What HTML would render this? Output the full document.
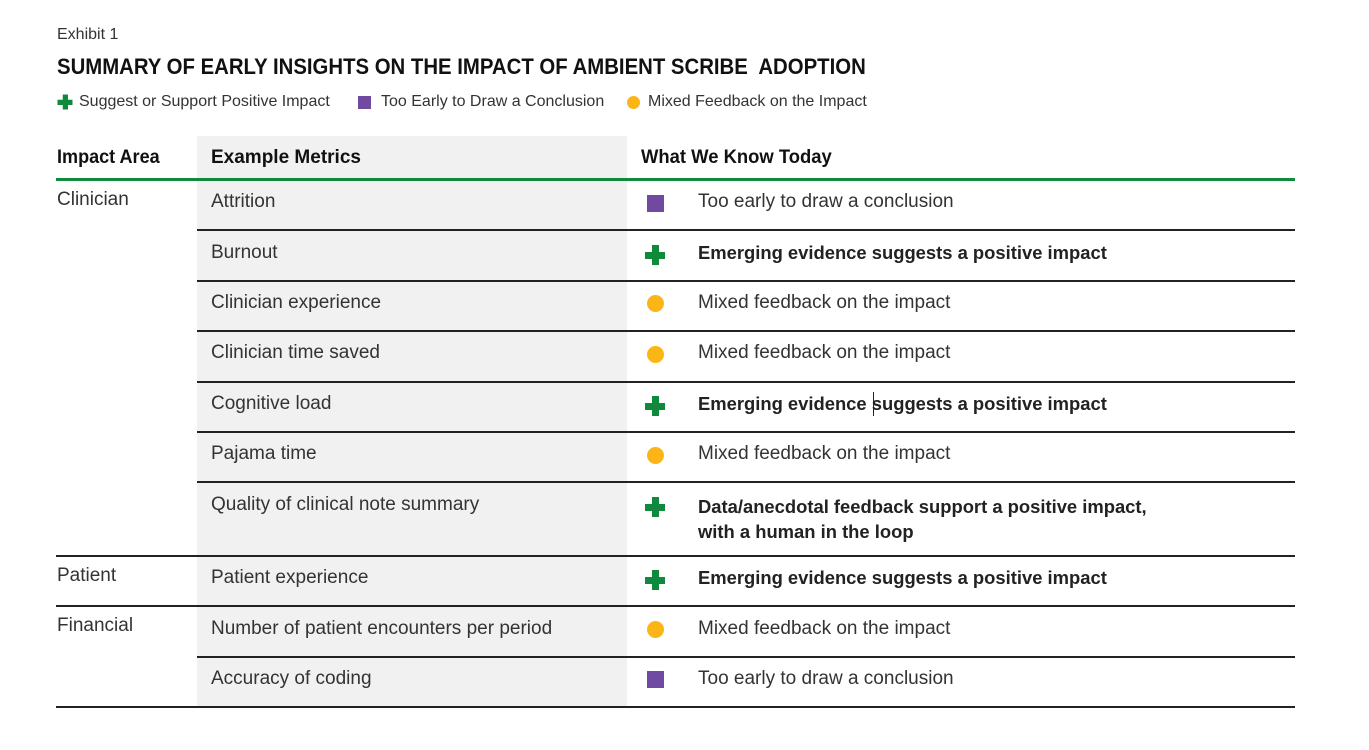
<!DOCTYPE html>
<html><head><meta charset="utf-8"><style>
body{margin:0;width:1369px;height:750px;background:#fff;position:relative;overflow:hidden;font-family:"Liberation Sans",sans-serif;color:#222}
.a{position:absolute;white-space:nowrap}
.n{font-family:"Liberation Sans",sans-serif}
.t{font-size:19px;color:#333;line-height:22px}
.b{font-weight:bold;color:#222;font-size:18.4px}
.hl{position:absolute;height:1.5px;background:#222}
.sq{position:absolute;width:17px;height:17px;background:#6f4aa0}
.ci{position:absolute;width:17px;height:17px;border-radius:50%;background:#fbb517}
.pl{position:absolute;width:20px;height:20px}
.pl:before{content:"";position:absolute;left:6.5px;top:0;width:7px;height:20px;background:#0f8a3c}
.pl:after{content:"";position:absolute;top:6.5px;left:0;height:7px;width:20px;background:#0f8a3c}
</style></head><body>
<div class="a n" style="left:57px;top:26px;font-size:16px;color:#333">Exhibit 1</div>
<div class="a n" style="left:57px;top:54px;font-size:22px;font-weight:bold;color:#111;transform:scaleX(.925);transform-origin:0 0">SUMMARY OF EARLY INSIGHTS ON THE IMPACT OF AMBIENT SCRIBE&nbsp; ADOPTION</div>
<div class="pl" style="left:55px;top:92px;transform:scale(.75)"></div>
<div class="a n" style="left:79px;top:93px;font-size:16px;color:#333">Suggest or Support Positive Impact</div>
<div class="sq" style="left:358px;top:96px;width:13px;height:13px"></div>
<div class="a n" style="left:381px;top:93px;font-size:16px;color:#333">Too Early to Draw a Conclusion</div>
<div class="ci" style="left:627px;top:96px;width:13px;height:13px"></div>
<div class="a n" style="left:648px;top:93px;font-size:16px;color:#333">Mixed Feedback on the Impact</div>

<div style="position:absolute;left:197px;top:136px;width:430px;height:570px;background:#f1f1f1"></div>
<div class="a n" style="left:57px;top:147px;font-size:19px;font-weight:bold;color:#111;transform:scaleX(.95);transform-origin:0 0">Impact Area</div>
<div class="a n" style="left:211px;top:147px;font-size:19px;font-weight:bold;color:#111">Example Metrics</div>
<div class="a n" style="left:641px;top:147px;font-size:19px;font-weight:bold;color:#111;transform:scaleX(.97);transform-origin:0 0">What We Know Today</div>
<div style="position:absolute;left:56px;top:178px;width:1239px;height:3px;background:#0f8a3c"></div>

<div class="hl" style="left:197px;top:229px;width:1098px"></div>
<div class="hl" style="left:197px;top:280px;width:1098px"></div>
<div class="hl" style="left:197px;top:330px;width:1098px"></div>
<div class="hl" style="left:197px;top:381px;width:1098px"></div>
<div class="hl" style="left:197px;top:431px;width:1098px"></div>
<div class="hl" style="left:197px;top:481px;width:1098px"></div>
<div class="hl" style="left:56px;top:555px;width:1239px"></div>
<div class="hl" style="left:56px;top:605px;width:1239px"></div>
<div class="hl" style="left:197px;top:656px;width:1098px"></div>
<div class="hl" style="left:56px;top:706px;width:1239px"></div>

<div class="a t" style="left:57px;top:189px">Clinician</div>
<div class="a t" style="left:57px;top:565px">Patient</div>
<div class="a t" style="left:57px;top:615px">Financial</div>

<div class="a t" style="left:211px;top:191px">Attrition</div>
<div class="a t" style="left:211px;top:242px">Burnout</div>
<div class="a t" style="left:211px;top:292px">Clinician experience</div>
<div class="a t" style="left:211px;top:342px">Clinician time saved</div>
<div class="a t" style="left:211px;top:393px">Cognitive load</div>
<div class="a t" style="left:211px;top:443px">Pajama time</div>
<div class="a t" style="left:211px;top:494px">Quality of clinical note summary</div>
<div class="a t" style="left:211px;top:567px">Patient experience</div>
<div class="a t" style="left:211px;top:618px">Number of patient encounters per period</div>
<div class="a t" style="left:211px;top:668px">Accuracy of coding</div>

<div class="sq" style="left:647px;top:195px"></div>
<div class="pl" style="left:645px;top:245px"></div>
<div class="ci" style="left:647px;top:295px"></div>
<div class="ci" style="left:647px;top:346px"></div>
<div class="pl" style="left:645px;top:396px"></div>
<div class="ci" style="left:647px;top:447px"></div>
<div class="pl" style="left:645px;top:497px"></div>
<div class="pl" style="left:645px;top:570px"></div>
<div class="ci" style="left:647px;top:621px"></div>
<div class="sq" style="left:647px;top:671px"></div>

<div class="a t" style="left:698px;top:191px">Too early to draw a conclusion</div>
<div class="a t b" style="left:698px;top:242px">Emerging evidence suggests a positive impact</div>
<div class="a t" style="left:698px;top:292px">Mixed feedback on the impact</div>
<div class="a t" style="left:698px;top:342px">Mixed feedback on the impact</div>
<div class="a t b" style="left:698px;top:393px">Emerging evidence suggests a positive impact</div>
<div style="position:absolute;left:873px;top:392px;width:1px;height:24px;background:#222"></div>
<div class="a t b" style="left:698px;top:494px;line-height:25px">Data/anecdotal feedback support a positive impact,<br>with a human in the loop</div>
<div class="a t" style="left:698px;top:443px">Mixed feedback on the impact</div>
<div class="a t b" style="left:698px;top:567px">Emerging evidence suggests a positive impact</div>
<div class="a t" style="left:698px;top:618px">Mixed feedback on the impact</div>
<div class="a t" style="left:698px;top:668px">Too early to draw a conclusion</div>
</body></html>
